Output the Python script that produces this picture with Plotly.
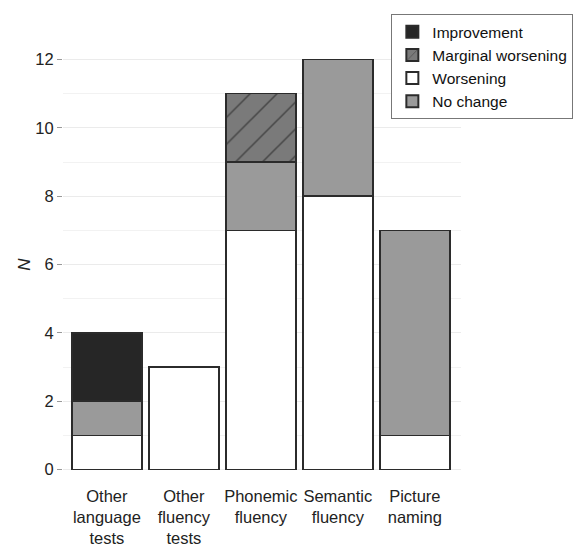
import plotly.graph_objects as go

categories = ["Other<br>language<br>tests", "Other<br>fluency<br>tests", "Phonemic<br>fluency",
              "Semantic<br>fluency", "Picture<br>naming"]
worsening = [1, 3, 7, 8, 1]
no_change = [1, 0, 2, 4, 6]
marginal_worsening = [0, 0, 2, 0, 0]
improvement = [2, 0, 0, 0, 0]

FONT = "Liberation Sans, Arial, sans-serif"
edge = dict(color="#2b2b2b", width=1.5)
W = 0.91

fig = go.Figure()
fig.add_trace(go.Bar(x=categories, y=worsening, name="Worsening", width=W, legendrank=3,
                     marker=dict(color="white", line=edge)))
fig.add_trace(go.Bar(x=categories, y=no_change, name="No change", width=W, legendrank=4,
                     marker=dict(color="#9a9a9a", line=edge)))
fig.add_trace(go.Bar(x=categories, y=marginal_worsening, name="Marginal worsening", width=W, legendrank=2,
                     marker=dict(color="#7a7a7a", line=edge,
                                 pattern=dict(shape="/", fgcolor="#111111", bgcolor="#7a7a7a",
                                              size=19, solidity=0.08))))
fig.add_trace(go.Bar(x=categories, y=improvement, name="Improvement", width=W, legendrank=1,
                     marker=dict(color="#262626", line=edge)))

fig.update_layout(
    barmode="stack",
    width=573, height=553,
    margin=dict(l=63, r=112, t=39, b=63, autoexpand=False),
    plot_bgcolor="white", paper_bgcolor="white",
    font=dict(family=FONT, size=16.5, color="#222222"),
    showlegend=True,
    legend=dict(x=0.825, y=1.055, xanchor="left", yanchor="top", traceorder="normal",
                bordercolor="#777777", borderwidth=1, bgcolor="white",
                font=dict(size=15.5, color="#111111"), tracegroupgap=0,
                itemsizing="constant", itemwidth=30),
    xaxis=dict(range=[-0.57, 4.6], showgrid=False, showline=False, ticks="",
               tickangle=0, automargin=False, ticklabelstandoff=-6,
               tickfont=dict(size=16.5, color="#222222")),
    yaxis=dict(range=[-0.6, 12.6], dtick=2, tick0=0, showgrid=True, gridcolor="#ebebeb",
               gridwidth=1, zeroline=False, showline=False, automargin=True,
               ticks="outside", ticklen=5, tickcolor="#999999", tickwidth=1,
               tickfont=dict(size=16.5, color="#222222"),
               minor=dict(dtick=1, tick0=0, showgrid=True, gridcolor="#f2f2f2", gridwidth=1),
               title=dict(text="<i>N</i>", standoff=0, font=dict(size=17, color="#222222"))),
)

fig.write_html("out.html", config={"displayModeBar": False})
with open("out.html", "r", encoding="utf-8") as f:
    html = f.read()
html = html.replace("<head>", "<head><style>html,body{margin:0;padding:0;overflow:hidden;}</style>", 1)
with open("out.html", "w", encoding="utf-8") as f:
    f.write(html)
